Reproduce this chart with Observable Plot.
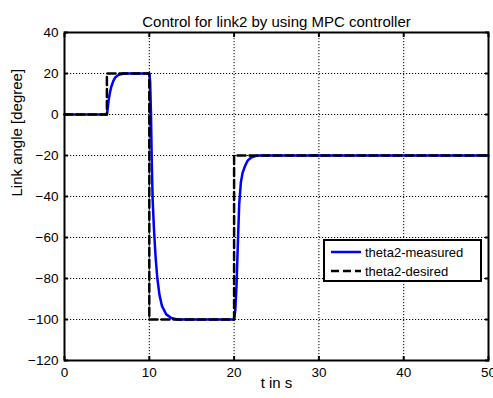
<!DOCTYPE html>
<html>
<head>
<meta charset="utf-8">
<script src="https://cdn.jsdelivr.net/npm/d3@7"></script>
<script src="https://cdn.jsdelivr.net/npm/@observablehq/plot@0.6"></script>
<style>
  body { margin: 0; background: #fff; }
  #chart { position: relative; width: 493px; height: 398px; font-family: "Liberation Sans", Arial, sans-serif; color: #000; }
  #chart svg { display: block; }
  .legend { position: absolute; left: 323px; top: 239px; width: 155px; height: 39px; border: 2px solid #000; background: #fff; font-size: 13px; }
  .legend .row { position: absolute; left: 6px; height: 16px; display: flex; align-items: center; }
  .legend .row svg { margin-right: 4px; }
</style>
</head>
<body>
<div id="chart"></div>
<script>
// Time axis (s) and link-2 angle (degree)
const tDesired = [0, 5, 5, 10, 10, 20, 20, 50];
const thetaDesired = [0, 0, 20, 20, -100, -100, -20, -20];

const tMeasured = [0, 5, 5.1, 5.2, 5.35, 5.5, 5.75, 6, 6.4, 7,
  10, 10.1, 10.2, 10.3, 10.4, 10.55, 10.75, 10.95, 11.2, 11.5, 12, 12.6, 13.3,
  20, 20.15, 20.3, 20.45, 20.6, 20.8, 21, 21.3, 21.6, 22, 22.5, 23, 50];
const thetaMeasured = [0, 0, 3, 6.8, 10.5, 13.3, 16.3, 18.2, 19.4, 20,
  20, 16, 0, -25, -42, -56, -70, -80, -88, -93.5, -97.5, -99.3, -100,
  -100, -95, -82, -62, -44, -33, -28.5, -25, -22.5, -21, -20.3, -20, -20];

const xTicks = [0, 10, 20, 30, 40, 50];
const yTicks = [-120, -100, -80, -60, -40, -20, 0, 20, 40];

const titleText = "Control for link2 by using MPC controller";
const xLabel = "t in s";
const yLabel = "Link angle [degree]";
const seriesNames = ["theta2-measured", "theta2-desired"];

const desired = tDesired.map((t, i) => ({t, v: thetaDesired[i]}));
const measured = tMeasured.map((t, i) => ({t, v: thetaMeasured[i]}));

const dotted = "1.2,1.8";
const tickFont = 13.5;

const chart = Plot.plot({
  width: 493,
  height: 398,
  marginLeft: 64,
  marginRight: 5,
  marginTop: 32,
  marginBottom: 38,
  style: {fontFamily: '"Liberation Sans", Arial, sans-serif', color: "#000", background: "#fff"},
  x: {domain: [0, 50], axis: null},
  y: {domain: [-120, 40], axis: null},
  marks: [
    // dotted grid
    Plot.gridX(xTicks, {stroke: "#000", strokeOpacity: 1, strokeWidth: 1, strokeDasharray: dotted}),
    Plot.gridY(yTicks, {stroke: "#000", strokeOpacity: 1, strokeWidth: 1, strokeDasharray: dotted}),
    // responses
    Plot.line(measured, {x: "t", y: "v", stroke: "#0000ff", strokeWidth: 2.5}),
    Plot.line(desired, {x: "t", y: "v", stroke: "#000", strokeWidth: 2.5, strokeDasharray: "8,4"}),
    // inward ticks on all four sides
    Plot.axisX({anchor: "bottom", ticks: xTicks, tickSize: 4, dy: -4, tickFormat: () => "", label: null, strokeWidth: 2}),
    Plot.axisX({anchor: "top", ticks: xTicks, tickSize: 4, dy: 4, tickFormat: () => "", label: null, strokeWidth: 2}),
    Plot.axisY({anchor: "left", ticks: yTicks, tickSize: 4, dx: 4, tickFormat: () => "", label: null, strokeWidth: 2}),
    Plot.axisY({anchor: "right", ticks: yTicks, tickSize: 4, dx: -4, tickFormat: () => "", label: null, strokeWidth: 2}),
    // tick labels
    Plot.axisX({anchor: "bottom", ticks: xTicks, tickSize: 0, tickPadding: 7, fontSize: tickFont, label: null}),
    Plot.axisY({anchor: "left", ticks: yTicks, tickSize: 0, tickPadding: 6, fontSize: tickFont, label: null}),
    Plot.frame({stroke: "#000", strokeWidth: 2}),
    // title and axis labels
    Plot.text([titleText], {frameAnchor: "top", dy: -16.5, text: d => d, fontSize: 15, fill: "#000"}),
    Plot.text([xLabel], {frameAnchor: "bottom", dy: 27, text: d => d, fontSize: 15, fill: "#000"}),
    Plot.text([yLabel], {frameAnchor: "left", dx: -47, rotate: -90, text: d => d, fontSize: 15, fill: "#000"})
  ]
});

const root = document.getElementById("chart");
root.appendChild(chart);

// legend box
const legend = document.createElement("div");
legend.className = "legend";
const samples = [
  {stroke: "#0000ff", dash: null},
  {stroke: "#000", dash: "8,4"}
];
seriesNames.forEach((name, i) => {
  const row = document.createElement("div");
  row.className = "row";
  row.style.top = (3 + i * 19) + "px";
  const s = d3.create("svg").attr("width", 30).attr("height", 16);
  s.append("line").attr("x1", 0).attr("x2", 30).attr("y1", 8).attr("y2", 8)
    .attr("stroke", samples[i].stroke).attr("stroke-width", 2.5)
    .attr("stroke-dasharray", samples[i].dash);
  row.appendChild(s.node());
  const label = document.createElement("span");
  label.textContent = name;
  row.appendChild(label);
  legend.appendChild(row);
});
root.appendChild(legend);
</script>
</body>
</html>
